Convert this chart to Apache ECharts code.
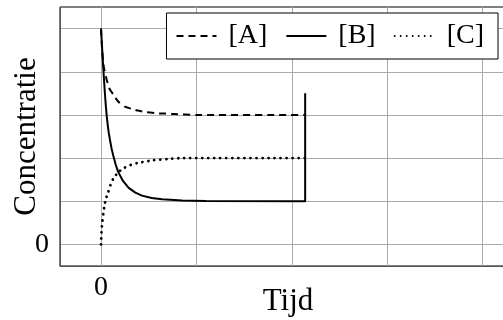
<!DOCTYPE html>
<html>
<head>
<meta charset="utf-8">
<script src="https://cdn.jsdelivr.net/npm/echarts@6/dist/echarts.min.js"></script>
<style>
  html, body { margin: 0; padding: 0; background: #fff; }
  #chart { width: 503px; height: 320px; }
</style>
</head>
<body>
<div id="chart"></div>
<script>
var chart = echarts.init(document.getElementById('chart'));

// [A] - dashed
var timeA = [0, 0.014, 0.03, 0.06, 0.09, 0.13, 0.18, 0.25, 0.32, 0.39, 0.48, 0.57, 0.67, 0.77, 1.0, 2.14];
var concA = [5, 4.43, 4.1, 3.81, 3.6, 3.47, 3.31, 3.19, 3.14, 3.1, 3.06, 3.04, 3.03, 3.02, 3.0, 3.0];

// [B] - solid, jumps up at the end
var timeB = [0, 0.01, 0.02, 0.03, 0.04, 0.05, 0.06, 0.07, 0.08, 0.094, 0.11, 0.13, 0.155, 0.18, 0.23, 0.29, 0.36, 0.43, 0.53, 0.64, 0.85, 1.1, 2.14, 2.14];
var concB = [5, 4.6, 4.22, 3.86, 3.52, 3.22, 2.97, 2.77, 2.6, 2.42, 2.23, 2.04, 1.84, 1.68, 1.47, 1.31, 1.2, 1.13, 1.076, 1.044, 1.017, 1.005, 1.0, 3.5];

// [C] - dotted
var timeC = [0, 0.007, 0.015, 0.024, 0.035, 0.049, 0.077, 0.1, 0.13, 0.18, 0.24, 0.31, 0.39, 0.55, 0.7, 0.86, 2.14];
var concC = [0, 0.36, 0.55, 0.71, 0.88, 1.04, 1.22, 1.38, 1.53, 1.67, 1.77, 1.84, 1.89, 1.95, 1.98, 2.0, 2.0];

var seriesNames = ['[A]', '[B]', '[C]'];
var xGridTicks = [0, 1, 2, 3, 4];
var yGridTicks = [0, 1, 2, 3, 4, 5];
var xLabelTicks = [0];
var yLabelTicks = [0];

function pairs(t, v) {
  return t.map(function (x, i) { return [x, v[i]]; });
}

var font = 'Liberation Serif';

var option = {
  backgroundColor: '#fff',
  animation: false,
  grid: {
    left: 60, top: 7, width: 456, height: 259,
    outerBoundsMode: 'none',
    show: true, borderColor: '#000', borderWidth: 1
  },
  legend: {
    top: 13, right: 5,
    data: seriesNames,
    itemWidth: 40, itemHeight: 14, itemGap: 18,
    padding: [9, 14, 9, 9],
    backgroundColor: '#fff',
    borderColor: '#000', borderWidth: 1,
    itemStyle: { opacity: 0 },
    textStyle: { fontFamily: font, fontSize: 28, color: '#000', padding: [0, 0, 0, 7] },
    z: 10
  },
  xAxis: {
    type: 'value', min: -0.43, max: 4.35,
    name: 'Tijd', nameLocation: 'middle', nameGap: 20, nameMoveOverlap: false,
    nameTextStyle: { fontFamily: font, fontSize: 31, color: '#000' },
    axisLine: { onZero: false, lineStyle: { color: '#555', width: 1 } },
    axisTick: { show: false, customValues: xGridTicks },
    axisLabel: { customValues: xLabelTicks, fontFamily: font, fontSize: 28, color: '#000', margin: 8 },
    splitLine: { lineStyle: { color: '#aaa', width: 1 } }
  },
  yAxis: {
    type: 'value', min: -0.5, max: 5.5,
    name: 'Concentratie', nameLocation: 'middle', nameGap: 18, nameRotate: 90, nameMoveOverlap: false,
    nameTextStyle: { fontFamily: font, fontSize: 31, color: '#000' },
    axisLine: { show: true, onZero: false, lineStyle: { color: '#555', width: 1 } },
    axisTick: { show: false, customValues: yGridTicks },
    axisLabel: { customValues: yLabelTicks, fontFamily: font, fontSize: 28, color: '#000', margin: 11 },
    splitLine: { lineStyle: { color: '#aaa', width: 1 } }
  },
  series: [
    {
      name: seriesNames[0], type: 'line', symbol: 'none', smooth: 0.2,
      data: pairs(timeA, concA),
      lineStyle: { color: '#000', width: 2, type: [7, 5] }
    },
    {
      name: seriesNames[1], type: 'line', symbol: 'none',
      data: pairs(timeB, concB),
      lineStyle: { color: '#000', width: 2, type: 'solid' }
    },
    {
      name: seriesNames[2], type: 'line', symbol: 'none', smooth: 0.2,
      data: pairs(timeC, concC),
      lineStyle: { color: '#000', width: 2.8, type: [0.01, 6], cap: 'round' }
    }
  ]
};

chart.setOption(option);
</script>
</body>
</html>
